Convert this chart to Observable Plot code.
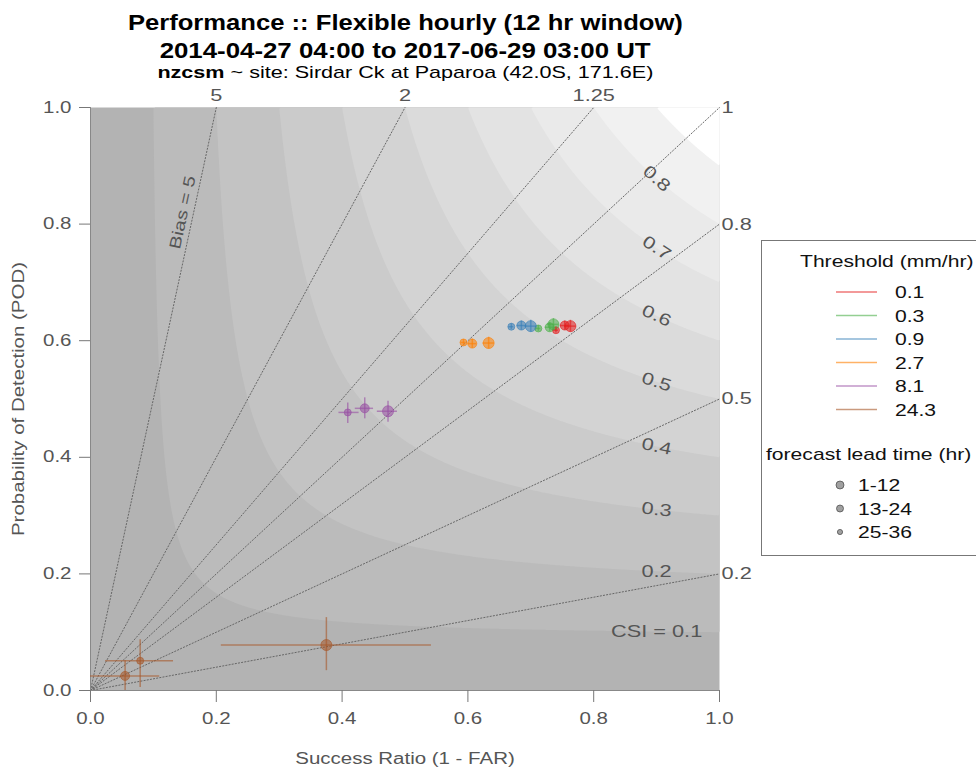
<!DOCTYPE html>
<html>
<head>
<meta charset="utf-8">
<script src="https://cdn.jsdelivr.net/npm/d3@7"></script>
<script src="https://cdn.jsdelivr.net/npm/@observablehq/plot@0.6"></script>
<style>
  html, body { margin: 0; padding: 0; background: white; }
  #wrap { position: relative; width: 976px; height: 769px; overflow: hidden; font-family: "Liberation Sans", Arial, sans-serif; }
  #chart { position: absolute; left: 0; top: 0; }
  .t { position: absolute; left: 0; width: 810px; text-align: center; color: #000; white-space: nowrap; }
  .t span { display: inline-block; transform-origin: 50% 50%; }
  #t1 { top: 10px; font-size: 22px; font-weight: bold; }
  #t2 { top: 38px; font-size: 22px; font-weight: bold; }
  #t3 { top: 63px; font-size: 17px; }
  #legend { position: absolute; left: 761px; top: 240px; width: 240px; height: 314px; border: 1px solid #777; background: white; }
</style>
</head>
<body>
<div id="wrap">
  <div id="chart"></div>
  <div class="t" id="t1"><span></span></div>
  <div class="t" id="t2"><span></span></div>
  <div class="t" id="t3"><span></span></div>
  <div id="legend"></div>
</div>
<script>
// ---- text ----
const titleLine1 = "Performance :: Flexible hourly (12 hr window)";
const titleLine2 = "2014-04-27 04:00 to 2017-06-29 03:00 UT";
const subtitleModel = "nzcsm";
const subtitleRest = " ~ site: Sirdar Ck at Paparoa (42.0S, 171.6E)";
const xLabel = "Success Ratio (1 - FAR)";
const yLabel = "Probability of Detection (POD)";
const legendTitle1 = "Threshold (mm/hr)";
const legendTitle2 = "forecast lead time (hr)";

// ---- categories ----
const thresholds = ["0.1", "0.3", "0.9", "2.7", "8.1", "24.3"];
const thresholdColors = ["#e41a1c", "#4daf4a", "#377eb8", "#ff7f00", "#984ea3", "#a65628"];
const leadTimes = ["1-12", "13-24", "25-36"];

// ---- background reference lines ----
const axisTicks = [0, 0.2, 0.4, 0.6, 0.8, 1.0];
const biasValues = [5, 2, 1.25, 1, 0.8, 0.5, 0.2];
const biasLabels = ["5", "2", "1.25", "1", "0.8", "0.5", "0.2"];
const csiLevels = [0.1, 0.2, 0.3, 0.4, 0.5, 0.6, 0.7, 0.8, 0.9];
const csiLabelLevels = [0.1, 0.2, 0.3, 0.4, 0.5, 0.6, 0.7, 0.8];
const csiLabelTexts = ["CSI = 0.1", "0.2", "0.3", "0.4", "0.5", "0.6", "0.7", "0.8"];
const csiGrays = ["#b3b3b3", "#bbbbbb", "#c3c3c3", "#cbcbcb", "#d3d3d3", "#dbdbdb", "#e3e3e3", "#eaeaea", "#f1f1f1", "#ffffff"];

// ---- series values (threshold x lead time, in the order above) ----
const pointThreshold = ["0.1","0.1","0.1","0.3","0.3","0.3","0.9","0.9","0.9","2.7","2.7","2.7","8.1","8.1","8.1","24.3","24.3","24.3"];
const pointLead = ["1-12","13-24","25-36","1-12","13-24","25-36","1-12","13-24","25-36","1-12","13-24","25-36","1-12","13-24","25-36","1-12","13-24","25-36"];
const successRatio = [0.763, 0.754, 0.740, 0.736, 0.730, 0.712, 0.700, 0.685, 0.669, 0.633, 0.607, 0.593, 0.473, 0.436, 0.409, 0.375, 0.055, 0.079];
const pod =          [0.625, 0.626, 0.618, 0.628, 0.623, 0.621, 0.625, 0.626, 0.624, 0.596, 0.595, 0.597, 0.479, 0.484, 0.477, 0.078, 0.025, 0.051];
const srLow =        [0.754, 0.747, 0.736, 0.727, 0.723, 0.708, 0.691, 0.678, 0.665, 0.624, 0.600, 0.589, 0.456, 0.421, 0.395, 0.208, 0.000, 0.024];
const srHigh =       [0.772, 0.761, 0.744, 0.745, 0.737, 0.716, 0.709, 0.692, 0.673, 0.642, 0.614, 0.597, 0.488, 0.450, 0.427, 0.542, 0.110, 0.132];
const podLow =       [0.615, 0.618, 0.613, 0.618, 0.615, 0.616, 0.615, 0.618, 0.619, 0.586, 0.587, 0.592, 0.460, 0.466, 0.458, 0.034, 0.000, 0.005];
const podHigh =      [0.635, 0.634, 0.623, 0.638, 0.631, 0.626, 0.635, 0.634, 0.629, 0.606, 0.603, 0.602, 0.496, 0.502, 0.493, 0.125, 0.051, 0.087];
const leadRadius = [5.5, 4.5, 3.5];
const legendRadius = [4, 3.5, 2.6];

// ---- build tables ----
const colorOf = (t) => thresholdColors[thresholds.indexOf(t)];
const points = successRatio.map((sr, i) => ({
  thr: pointThreshold[i], lead: pointLead[i], sr, pod: pod[i],
  srLo: srLow[i], srHi: srHigh[i], podLo: podLow[i], podHi: podHigh[i],
  color: colorOf(pointThreshold[i])
}));
const csi = (sr, p) => 1 / (1 / sr + 1 / p - 1);
const biasLines = biasValues.flatMap((b, i) => [
  {b, i, x: 0, y: 0},
  {b, i, x: b >= 1 ? 1 / b : 1, y: b >= 1 ? 1 : b}
]);
const biasEnds = biasValues.map((b, i) => ({b, label: biasLabels[i], x: b >= 1 ? 1 / b : 1, y: b >= 1 ? 1 : b}));
const labelSR = 0.9;
const sx = 629, sy = 583; // pixel aspect of the panel, used only for text angles
const csiLabelData = csiLabelLevels.map((c, i) => {
  const p = 1 / (1 / c + 1 - 1 / labelSR);
  const slope = (p / labelSR) ** 2 * (sy / sx);
  return {c, text: csiLabelTexts[i], x: labelSR, y: p, angle: c <= 0.2 ? 0 : Math.atan(slope) * 180 / Math.PI};
});

const gridColor = "#555";
const marks = [
  Plot.frame({fill: csiGrays[0], stroke: null}),
  Plot.contour({
    x1: 0, y1: 0, x2: 1, y2: 1,
    fill: (x, y) => csi(x, y),
    thresholds: csiLevels,
    stroke: "none",
    pixelSize: 2
  }),
  Plot.line(biasLines, {x: "x", y: "y", z: "i", stroke: "#666", strokeWidth: 1, strokeDasharray: "1.2,2"}),
  Plot.text(biasEnds.filter(d => d.b > 1), {x: "x", y: "y", text: "label", dy: -12, fill: gridColor, fontSize: 17}),
  Plot.text(biasEnds.filter(d => d.b <= 1), {x: "x", y: "y", text: "label", dx: 2, textAnchor: "start", fill: gridColor, fontSize: 17}),
  Plot.text([biasEnds[0]], {x: d => 0.82 / d.b, y: 0.82, text: d => "Bias = " + d.label, rotate: -Math.atan(5 * sy / sx) * 180 / Math.PI, dx: -11, fill: gridColor, fontSize: 16}),
  Plot.text(csiLabelData, {x: "x", y: "y", text: "text", rotate: "angle", fill: gridColor, fontSize: 17}),
  // axes
  Plot.ruleX([0], {stroke: "#888"}),
  Plot.ruleY([0], {stroke: "#888"}),
  Plot.axisX(axisTicks, {anchor: "bottom", tickSize: 12, tickPadding: 10, tickFormat: d3.format(".1f"), fontSize: 16, color: gridColor, stroke: "#777", label: null}),
  Plot.axisY(axisTicks, {anchor: "left", tickSize: 11, tickPadding: 8, tickFormat: d3.format(".1f"), fontSize: 16, color: gridColor, stroke: "#777", label: null}),
  Plot.text([xLabel], {frameAnchor: "bottom", dy: 73, text: d => d, fill: gridColor, fontSize: 16}),
  Plot.text([yLabel], {frameAnchor: "left", textAnchor: "middle", dx: -72, rotate: -90, text: d => d, fill: gridColor, fontSize: 16}),
];
leadTimes.slice().reverse().forEach((lt) => {
  const r = leadRadius[leadTimes.indexOf(lt)];
  marks.push(Plot.dot(points.filter(d => d.lead === lt), {x: "sr", y: "pod", r, fill: "color", fillOpacity: 0.55, stroke: "color", strokeOpacity: 0.6, strokeWidth: 1}));
});
// error bars on top of the dots
marks.push(
  Plot.ruleY(points, {y: "pod", x1: "srLo", x2: "srHi", stroke: "color", strokeOpacity: 0.6, strokeWidth: 1.5}),
  Plot.ruleX(points, {x: "sr", y1: "podLo", y2: "podHi", stroke: "color", strokeOpacity: 0.6, strokeWidth: 1.5})
);

const chart = Plot.plot({
  width: 976, height: 769,
  marginLeft: 90, marginRight: 257, marginTop: 107, marginBottom: 79,
  x: {domain: [0, 1], axis: null},
  y: {domain: [0, 1], axis: null},
  color: {type: "threshold", domain: csiLevels, range: csiGrays},
  style: {fontFamily: "'Liberation Sans', Arial, sans-serif", fontSize: "16px", background: "white", overflow: "visible"},
  marks
});
document.getElementById("chart").appendChild(chart);

// widen the lettering (the reference font is set wide)
const stretch = 1.28;
chart.querySelectorAll("text").forEach((t) => {
  const tr = t.getAttribute("transform");
  if (tr) {
    t.setAttribute("transform", tr + ` scale(${stretch},1)`);
  } else {
    const x = +(t.getAttribute("x") || 0), y = +(t.getAttribute("y") || 0);
    t.removeAttribute("x"); t.removeAttribute("y");
    t.setAttribute("transform", `translate(${x},${y}) scale(${stretch},1)`);
  }
});

// ---- titles, fitted to the reference widths ----
const titleSpecs = [["t1", titleLine1, 555], ["t2", titleLine2, 491], ["t3", null, 496]];
titleSpecs.forEach(([id, txt, w]) => {
  const s = document.querySelector("#" + id + " span");
  if (txt) s.textContent = txt; else s.innerHTML = "<b>" + subtitleModel + "</b>" + subtitleRest;
  const cw = s.getBoundingClientRect().width;
  s.style.transform = `scaleX(${w / cw})`;
});

// ---- legend (svg built with d3) ----
const lg = d3.select("#legend").append("svg").attr("width", 240).attr("height", 314)
  .style("font-family", "'Liberation Sans', Arial, sans-serif").style("font-size", "16px");
const lgText = (x, y, s) => lg.append("text").attr("transform", `translate(${x},${y}) scale(1.32,1)`).text(s).attr("fill", "#111");
lgText(38, 26, legendTitle1);
thresholds.forEach((t, i) => {
  const y = 51 + i * 23.5;
  lg.append("line").attr("x1", 74).attr("x2", 115).attr("y1", y).attr("y2", y)
    .attr("stroke", thresholdColors[i]).attr("stroke-opacity", 0.6).attr("stroke-width", 1.5);
  lgText(133, y + 6, t);
});
lgText(4, 219, legendTitle2);
leadTimes.forEach((t, i) => {
  const y = 244 + i * 23.5;
  lg.append("circle").attr("cx", 78).attr("cy", y).attr("r", legendRadius[i])
    .attr("fill", "#888").attr("fill-opacity", 0.8).attr("stroke", "#444").attr("stroke-opacity", 0.7);
  lgText(96, y + 6, t);
});
</script>
</body>
</html>
